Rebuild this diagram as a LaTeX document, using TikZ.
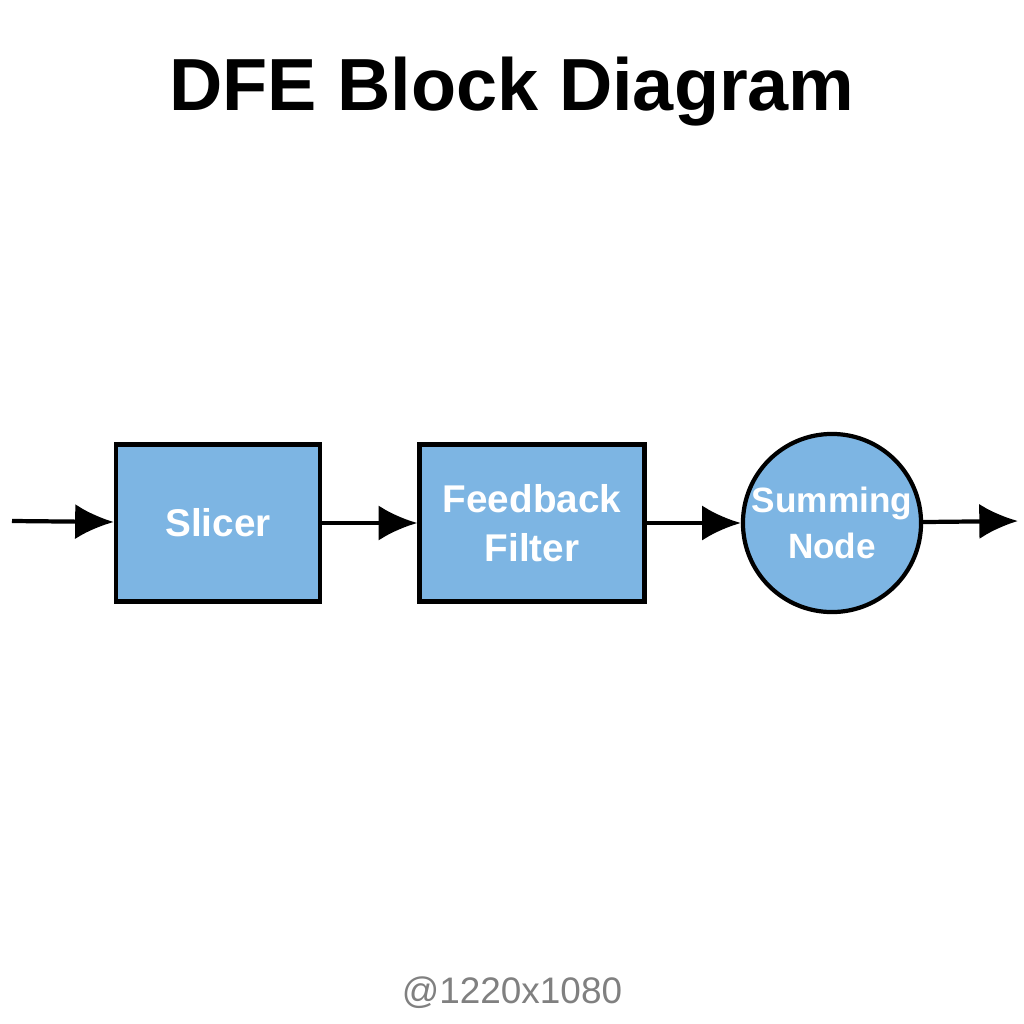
\documentclass[tikz,border=0pt]{standalone}
\usepackage{fontspec}
\setmainfont{Liberation Sans}
\usetikzlibrary{positioning,arrows.meta}
\definecolor{blockblue}{HTML}{7DB5E3}
\begin{document}
\begin{tikzpicture}[x=0.01cm,y=-0.01cm,
  block/.style={draw=black,line width=1.2pt,fill=blockblue,text=white,font=\fontsize{11}{14}\selectfont\bfseries,align=center,inner sep=0pt},
  flow/.style={-{Latex[length=11pt,width=10pt]},line width=1.2pt}]
  \useasboundingbox (0,0) rectangle (1024,1024);
  \node[font=\fontsize{21}{25}\selectfont\bfseries] (title) at (512,92) {DFE Block Diagram};
  \node[block,minimum width=2.04cm,minimum height=1.57cm] (slicer) at (218,523) {Slicer};
  \node[block,minimum width=2.25cm,minimum height=1.57cm] (filter) at (532,523) {Feedback\\Filter};
  \node[block,circle,minimum size=1.78cm,font=\fontsize{10}{13}\selectfont\bfseries] (sum) at (832,523) {Summing\\Node};
  \coordinate (in) at (12,521);
  \coordinate (out) at (1018,521);
  \draw[flow] (in) -- (slicer);
  \draw[flow] (slicer) -- (filter);
  \draw[flow] (filter) -- (sum);
  \draw[flow] (sum) -- (out);
  \node[text=gray,font=\fontsize{10.5}{13}\selectfont] (size) at (512,993) {@1220x1080};
\end{tikzpicture}
\end{document}
